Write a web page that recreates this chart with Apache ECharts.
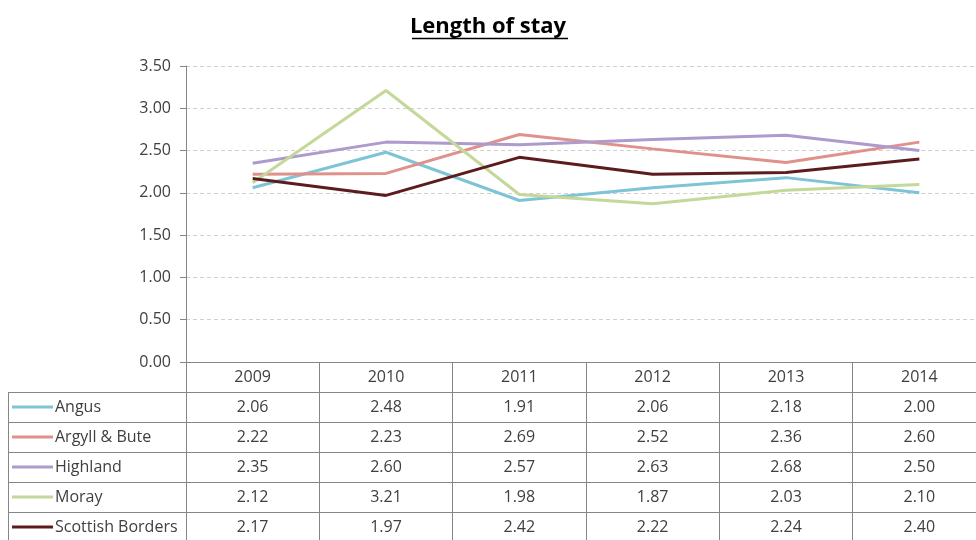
<!DOCTYPE html>
<html><head><meta charset="utf-8">
<script src="https://cdn.jsdelivr.net/npm/echarts@6/dist/echarts.min.js"></script>
<style>html,body{margin:0;padding:0;background:#fff}#c{width:976px;height:540px}</style>
</head><body><div id="c"></div>
<script>
const title = "Length of stay";
const years = ["2009","2010","2011","2012","2013","2014"];
const seriesNames = ["Angus","Argyll & Bute","Highland","Moray","Scottish Borders"];
const angus = [2.06,2.48,1.91,2.06,2.18,2.00];
const argyll = [2.22,2.23,2.69,2.52,2.36,2.60];
const highland = [2.35,2.60,2.57,2.63,2.68,2.50];
const moray = [2.12,3.21,1.98,1.87,2.03,2.10];
const borders = [2.17,1.97,2.42,2.22,2.24,2.40];
const seriesData = [angus, argyll, highland, moray, borders];
const colors = ["#7fc4d6","#e0918b","#ac9bcc","#c4d89a","#5c1c1e"];

const FONT = "'Open Sans', sans-serif";
const chart = echarts.init(document.getElementById('c'), null, {renderer:'canvas'});
const gridTop = 66, gridBottom = 178, gridLeft = 186, gridWidth = 800;
const rowH = 30;

chart.setOption({
  animation:false,
  backgroundColor:'#fff',
  title:{text:title,left:'center',top:11,textStyle:{fontFamily:FONT,fontSize:22,fontWeight:'bold',color:'#000'}},
  grid:{top:gridTop,bottom:gridBottom,left:gridLeft,width:gridWidth,containLabel:false,outerBoundsMode:'none'},
  xAxis:{type:'category',data:years,boundaryGap:true,
    axisLine:{lineStyle:{color:'#868686',width:1}},
    axisTick:{show:true,length:178,lineStyle:{color:'#868686'}},
    axisLabel:{fontFamily:FONT,fontSize:16,color:'#404040',margin:7}},
  yAxis:{type:'value',min:0,max:3.5,interval:0.5,
    axisLine:{show:true,lineStyle:{color:'#868686'}},
    axisTick:{show:true,length:6,lineStyle:{color:'#868686'}},
    splitLine:{lineStyle:{color:'#d0d0d0',type:[4,3]}},
    axisLabel:{fontFamily:FONT,fontSize:16,color:'#404040',margin:15,formatter:v=>v.toFixed(2)}},
  series:seriesNames.map((n,i)=>({name:n,type:'line',data:seriesData[i],symbol:'none',
    lineStyle:{color:colors[i],width:3},itemStyle:{color:colors[i]}}))
});

const y0 = chart.convertToPixel({yAxisIndex:0},0);
const elems = [];
elems.push({type:'line',shape:{x1:412,y1:38.5,x2:568,y2:38.5},style:{stroke:'#000',lineWidth:1.5},z:100});
const tableLeft = 8, tableRight = 976;
const headerBottom = y0 + rowH;
for(let r=0;r<=seriesNames.length;r++){
  const y = Math.round(headerBottom + r*rowH)+0.5;
  elems.push({type:'line',shape:{x1:tableLeft,y1:y,x2:tableRight,y2:y},style:{stroke:'#868686',lineWidth:1}});
}
elems.push({type:'line',shape:{x1:tableLeft+0.5,y1:headerBottom,x2:tableLeft+0.5,y2:540},style:{stroke:'#868686',lineWidth:1}});
seriesNames.forEach((n,i)=>{
  const cy = headerBottom + rowH*i + rowH/2;
  elems.push({type:'line',shape:{x1:12,y1:cy,x2:53,y2:cy},style:{stroke:colors[i],lineWidth:3}});
  elems.push({type:'text',x:55,y:cy,style:{text:n,fontFamily:FONT,fontSize:16,fill:'#404040',verticalAlign:'middle',align:'left'}});
  years.forEach((yr,j)=>{
    const cx = chart.convertToPixel({xAxisIndex:0},yr);
    elems.push({type:'text',x:cx,y:cy,style:{text:seriesData[i][j].toFixed(2),fontFamily:FONT,fontSize:16,fill:'#404040',align:'center',verticalAlign:'middle'}});
  });
});
chart.setOption({graphic:{elements:elems}});
</script></body></html>
